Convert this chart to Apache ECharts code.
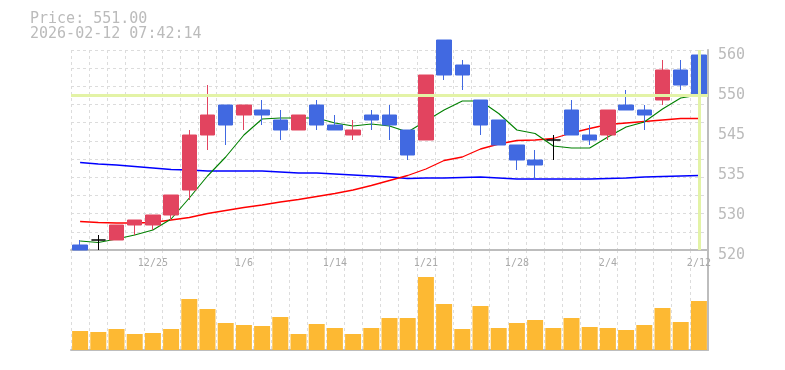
<!DOCTYPE html>
<html>
<head>
<meta charset="utf-8">
<script src="https://cdn.jsdelivr.net/npm/echarts@6/dist/echarts.min.js"></script>
<style>
html,body{margin:0;padding:0;background:#fff;}
#chart{width:785px;height:370px;}
</style>
</head>
<body>
<div id="chart"></div>
<script>
// ---- data ----
const dates = ['12/19','12/22','12/23','12/24','12/25','12/26','12/29','12/30','1/5','1/6',
  '1/7','1/8','1/9','1/13','1/14','1/15','1/16','1/19','1/20','1/21',
  '1/22','1/23','1/26','1/27','1/28','1/29','1/30','2/2','2/3','2/4',
  '2/5','2/6','2/9','2/10','2/12'];
const openP  = [521,522,522,525,525,527,532,543,549,547,548,546,544,549,545,543,547,547,544,542,562,557,550,546,541,538,542,548,543,543,549,548,550,556,559];
const closeP = [520,522,525,526,527,531,543,547,545,549,547,544,547,545,544,544,546,545,539,555,555,555,545,541,538,537,542,543,542,548,548,547,556,553,551];
const lowP   = [520,520,522,523,524,526,530,540,541,544,545,542,544,544,544,542,544,542,538,542,554,552,543,541,536,534,538,543,541,542,548,544,549,552,550];
const highP  = [522,523,525,526,527,531,544,553,549,549,550,548,547,550,547,546,548,549,544,555,562,558,550,546,541,540,543,550,545,548,552,549,558,558,559];
const volume = [19,18,21,16,17,21,51,41,27,25,24,33,16,26,22,16,22,32,32,73,46,21,44,22,27,30,22,32,23,22,20,25,42,28,49];
const ma5  = [521.8,521.5,522.2,523.0,524.0,526.2,530.4,534.8,538.6,543.0,546.2,546.4,546.4,546.4,545.4,544.8,545.2,544.8,543.6,545.8,548.0,549.8,549.8,547.3,544.0,543.3,540.8,540.4,540.4,542.6,544.6,545.6,548.2,550.4,551.0];
const ma25 = [525.7,525.5,525.4,525.4,525.5,526.0,526.5,527.3,527.9,528.5,529.0,529.6,530.1,530.7,531.3,532.0,532.9,533.9,534.9,536.2,537.9,538.6,540.2,541.2,541.9,542.0,542.3,543.4,544.3,545.1,545.4,545.7,546.0,546.3,546.3];
const ma75 = [537.5,537.2,537.0,536.7,536.4,536.1,536.0,535.8,535.8,535.8,535.8,535.6,535.4,535.4,535.2,535.0,534.8,534.6,534.3,534.4,534.4,534.5,534.6,534.4,534.2,534.2,534.2,534.2,534.2,534.3,534.4,534.6,534.7,534.8,534.9];
const priceTicks = ['520','530','535','545','550','560'];
const lastPrice = 551.00;
const stamp = '2026-02-12 07:42:14';

// ---- chart ----
const mono = 'DejaVu Sans Mono';
const candles = openP.map((o, i) => [o, closeP[i], lowP[i], highP[i]]);
const lastCat = dates[dates.length - 1];
const gridCol = '#dcdcdc';
const axisCol = '#bdbdbd';

const chart = echarts.init(document.getElementById('chart'), null, {renderer: 'canvas'});
chart.setOption({
  animation: false,
  backgroundColor: '#ffffff',
  title: {
    text: 'Price: ' + lastPrice.toFixed(2) + '\n' + stamp,
    left: 30, top: 12, padding: 0,
    textStyle: {fontFamily: mono, fontSize: 15, fontWeight: 'normal', color: '#bbbbbb', lineHeight: 15}
  },
  grid: [
    {left: 71, right: 77, top: 50, height: 200},
    {left: 71, right: 77, top: 250, height: 100}
  ],
  xAxis: [
    {
      type: 'category', data: dates, gridIndex: 0, boundaryGap: true,
      axisLine: {show: true, lineStyle: {color: axisCol, width: 2}},
      axisTick: {show: false},
      axisLabel: {
        interval: (idx) => (dates.length - 1 - idx) % 5 === 0,
        color: '#aaaaaa', fontFamily: mono, fontSize: 10, margin: 8
      },
      splitLine: {show: true, interval: 0, lineStyle: {color: gridCol, type: [3, 3], width: 1}}
    },
    {
      type: 'category', data: dates, gridIndex: 1, boundaryGap: true,
      axisLine: {show: true, lineStyle: {color: axisCol, width: 2}},
      axisTick: {show: false},
      axisLabel: {show: false},
      splitLine: {show: true, interval: 0, lineStyle: {color: gridCol, type: [3, 3], width: 1}}
    }
  ],
  yAxis: [
    {
      type: 'value', gridIndex: 0, position: 'right', min: 520, max: 560, interval: 8,
      axisLine: {show: true, lineStyle: {color: axisCol, width: 2}},
      axisTick: {show: false},
      splitLine: {show: false},
      axisLabel: {
        formatter: (v, i) => priceTicks[i],
        color: '#bbbbbb', fontFamily: mono, fontSize: 15, margin: 10,
        verticalAlign: 'top', lineHeight: 11
      }
    },
    {
      type: 'value', gridIndex: 0, position: 'left', min: 0, max: 11, interval: 1,
      axisLine: {show: false}, axisTick: {show: false}, axisLabel: {show: false},
      splitLine: {show: true, lineStyle: {color: gridCol, type: [3, 3], width: 1}}
    },
    {
      type: 'value', gridIndex: 1, position: 'right', min: 0, max: 100,
      axisLine: {show: true, lineStyle: {color: axisCol, width: 2}},
      axisTick: {show: false}, axisLabel: {show: false},
      splitLine: {show: false}
    }
  ],
  series: [
    {
      name: 'last', type: 'line', xAxisIndex: 0, yAxisIndex: 0, data: [], z: 1,
      markLine: {
        silent: true, symbol: 'none', label: {show: false},
        lineStyle: {color: '#e3f3a6', width: 3, type: 'solid'},
        data: [{yAxis: lastPrice}, {xAxis: lastCat}]
      }
    },
    {
      name: 'MA75', type: 'line', data: ma75, xAxisIndex: 0, yAxisIndex: 0, z: 2,
      showSymbol: false, symbol: 'none', lineStyle: {color: '#0000ff', width: 1.3}
    },
    {
      name: 'MA25', type: 'line', data: ma25, xAxisIndex: 0, yAxisIndex: 0, z: 2,
      showSymbol: false, symbol: 'none', lineStyle: {color: '#ff0000', width: 1.3}
    },
    {
      name: 'MA5', type: 'line', data: ma5, xAxisIndex: 0, yAxisIndex: 0, z: 2,
      showSymbol: false, symbol: 'none', lineStyle: {color: '#008000', width: 1.1}
    },
    {
      name: 'Price', type: 'candlestick', data: candles, xAxisIndex: 0, yAxisIndex: 0, z: 3,
      barWidth: 15, clip: false,
      itemStyle: {
        color: '#e2445f', color0: '#4169e1',
        borderColor: '#e2445f', borderColor0: '#4169e1',
        borderColorDoji: '#000000', borderWidth: 1
      }
    },
    {
      name: 'Volume', type: 'bar', data: volume, xAxisIndex: 1, yAxisIndex: 2,
      barWidth: 16, itemStyle: {color: '#fdb933'}
    }
  ]
});
</script>
</body>
</html>
